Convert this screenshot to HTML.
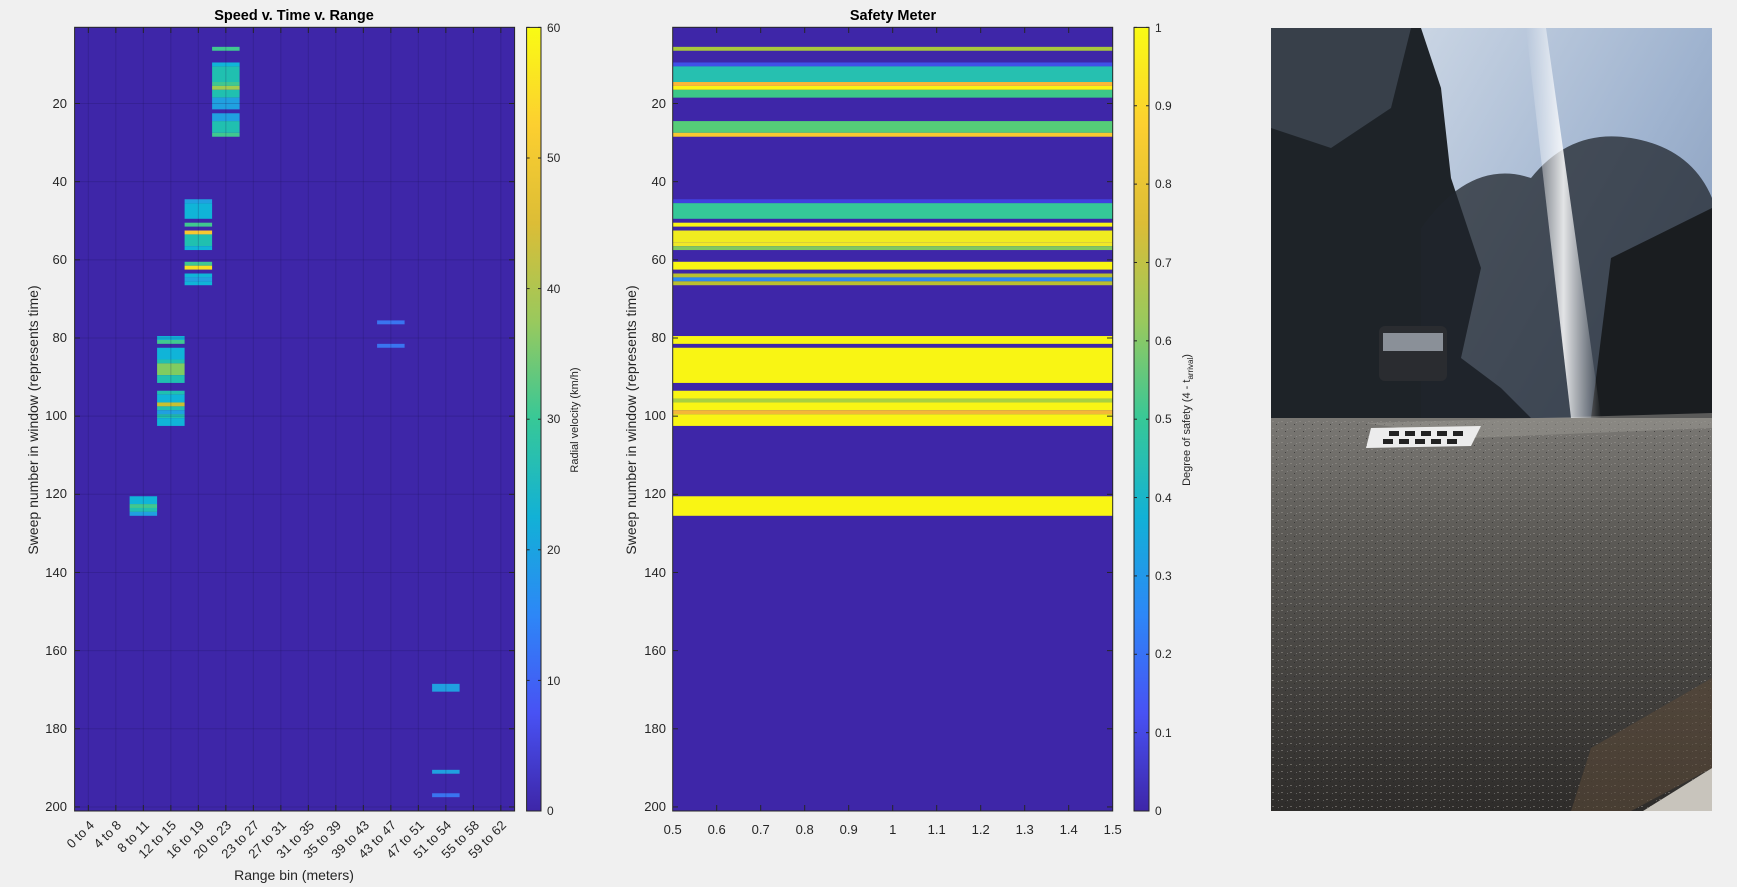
<!DOCTYPE html>
<html><head><meta charset="utf-8"><style>
html,body{margin:0;padding:0;background:#f0f0f0;}
svg{display:block;font-family:"Liberation Sans",Arial,sans-serif;}
.t{font-size:13px;fill:#262626;}
.tb{font-size:14.5px;font-weight:bold;fill:#000;}
</style></head><body>
<svg width="1737" height="887" viewBox="0 0 1737 887" xmlns="http://www.w3.org/2000/svg">
<defs>
<linearGradient id="par" x1="0" y1="1" x2="0" y2="0">
<stop offset="0" stop-color="#3e26a8"/><stop offset="0.125" stop-color="#4852f4"/>
<stop offset="0.25" stop-color="#2d87f7"/><stop offset="0.375" stop-color="#12b1d6"/>
<stop offset="0.5" stop-color="#37c897"/><stop offset="0.625" stop-color="#99c95d"/>
<stop offset="0.75" stop-color="#dcbd36"/><stop offset="0.875" stop-color="#fccf30"/>
<stop offset="1" stop-color="#f9fb14"/></linearGradient>
<linearGradient id="sky" x1="0" y1="0" x2="1" y2="1">
<stop offset="0" stop-color="#dfe6ee"/><stop offset="0.5" stop-color="#9fb3cf"/><stop offset="1" stop-color="#6a7fa0"/></linearGradient>
<linearGradient id="road" x1="0" y1="0" x2="0" y2="1">
<stop offset="0" stop-color="#7a7874"/><stop offset="0.3" stop-color="#5c5a56"/><stop offset="1" stop-color="#2e2c2a"/></linearGradient>
<linearGradient id="ray" x1="0" y1="0" x2="1" y2="0">
<stop offset="0" stop-color="#fff" stop-opacity="0"/><stop offset="0.5" stop-color="#fff" stop-opacity="0.85"/><stop offset="1" stop-color="#fff" stop-opacity="0"/></linearGradient>
<pattern id="grain" width="9" height="7" patternUnits="userSpaceOnUse">
<rect x="1" y="1" width="2" height="1" fill="#9a9690" opacity="0.5"/><rect x="5" y="4" width="1" height="1" fill="#222" opacity="0.6"/><rect x="7" y="2" width="1" height="1" fill="#aaa" opacity="0.4"/></pattern>
</defs>

<!-- LEFT PLOT -->
<rect x="74.6" y="27.3" width="440" height="783.7" fill="#3e26a8"/>
<g id="L"></g>
<g id="Lgrid" stroke="#1a1050" stroke-opacity="0.22" stroke-width="1"></g>
<rect x="74.6" y="27.3" width="440" height="783.7" fill="none" stroke="#262626" stroke-width="1"/>
<text class="tb" x="294" y="20" text-anchor="middle">Speed v. Time v. Range</text>
<g class="t" text-anchor="end">
<text x="67" y="108">20</text><text x="67" y="186">40</text><text x="67" y="264">60</text><text x="67" y="342">80</text><text x="67" y="420">100</text><text x="67" y="498">120</text><text x="67" y="577">140</text><text x="67" y="655">160</text><text x="67" y="733">180</text><text x="67" y="811">200</text>
</g>
<text class="t" style="font-size:14px" transform="translate(38,420) rotate(-90)" text-anchor="middle">Sweep number in window (represents time)</text>
<g class="t" text-anchor="end">
<text transform="translate(95,826) rotate(-45)">0 to 4</text>
<text transform="translate(122,826) rotate(-45)">4 to 8</text>
<text transform="translate(150,826) rotate(-45)">8 to 11</text>
<text transform="translate(177,826) rotate(-45)">12 to 15</text>
<text transform="translate(205,826) rotate(-45)">16 to 19</text>
<text transform="translate(232,826) rotate(-45)">20 to 23</text>
<text transform="translate(260,826) rotate(-45)">23 to 27</text>
<text transform="translate(287,826) rotate(-45)">27 to 31</text>
<text transform="translate(315,826) rotate(-45)">31 to 35</text>
<text transform="translate(342,826) rotate(-45)">35 to 39</text>
<text transform="translate(370,826) rotate(-45)">39 to 43</text>
<text transform="translate(397,826) rotate(-45)">43 to 47</text>
<text transform="translate(425,826) rotate(-45)">47 to 51</text>
<text transform="translate(452,826) rotate(-45)">51 to 54</text>
<text transform="translate(480,826) rotate(-45)">55 to 58</text>
<text transform="translate(507,826) rotate(-45)">59 to 62</text>
</g>
<text class="t" style="font-size:14px" x="294" y="880" text-anchor="middle">Range bin (meters)</text>

<!-- colorbar 1 -->
<rect x="526.6" y="27.4" width="14.4" height="783.6" fill="url(#par)" stroke="#262626" stroke-width="1"/>
<g id="cb1t" stroke="#262626"></g>
<g class="t" style="font-size:12px">
<text x="547" y="815">0</text><text x="547" y="685">10</text><text x="547" y="554">20</text><text x="547" y="423">30</text><text x="547" y="293">40</text><text x="547" y="162">50</text><text x="547" y="32">60</text>
</g>
<text class="t" style="font-size:11px" transform="translate(578,420) rotate(-90)" text-anchor="middle">Radial velocity (km/h)</text>

<!-- MIDDLE PLOT -->
<rect x="672.7" y="27.3" width="440" height="783.7" fill="#3e26a8"/>
<g id="M"></g>
<g id="Mt" stroke="#262626"></g>
<rect x="672.7" y="27.3" width="440" height="783.7" fill="none" stroke="#262626" stroke-width="1"/>
<text class="tb" x="893" y="20" text-anchor="middle">Safety Meter</text>
<g class="t" text-anchor="end">
<text x="666" y="108">20</text><text x="666" y="186">40</text><text x="666" y="264">60</text><text x="666" y="342">80</text><text x="666" y="420">100</text><text x="666" y="498">120</text><text x="666" y="577">140</text><text x="666" y="655">160</text><text x="666" y="733">180</text><text x="666" y="811">200</text>
</g>
<text class="t" style="font-size:14px" transform="translate(636,420) rotate(-90)" text-anchor="middle">Sweep number in window  (represents time)</text>
<g class="t" text-anchor="middle">
<text x="672.7" y="834">0.5</text><text x="716.7" y="834">0.6</text><text x="760.7" y="834">0.7</text><text x="804.7" y="834">0.8</text><text x="848.7" y="834">0.9</text><text x="892.7" y="834">1</text><text x="936.7" y="834">1.1</text><text x="980.7" y="834">1.2</text><text x="1024.7" y="834">1.3</text><text x="1068.7" y="834">1.4</text><text x="1112.7" y="834">1.5</text>
</g>

<!-- colorbar 2 -->
<rect x="1134" y="27.4" width="15" height="783.6" fill="url(#par)" stroke="#262626" stroke-width="1"/>
<g id="cb2t" stroke="#262626"></g>
<g class="t" style="font-size:12px">
<text x="1155" y="815">0</text><text x="1155" y="737">0.1</text><text x="1155" y="658">0.2</text><text x="1155" y="580">0.3</text><text x="1155" y="502">0.4</text><text x="1155" y="423">0.5</text><text x="1155" y="345">0.6</text><text x="1155" y="267">0.7</text><text x="1155" y="188">0.8</text><text x="1155" y="110">0.9</text><text x="1155" y="32">1</text>
</g>
<text class="t" style="font-size:11px" transform="translate(1190,420) rotate(-90)" text-anchor="middle">Degree of safety (4 - t<tspan font-size="8" dy="3">arrival</tspan><tspan dy="-3">)</tspan></text>

<!-- PHOTO -->
<svg x="1271" y="28" width="441" height="783" viewBox="0 0 441 783">
<rect width="441" height="783" fill="url(#sky)"/>
<path d="M0 0 L150 0 L170 60 L180 150 L210 240 L190 330 L230 360 L260 390 L0 395 Z" fill="#1e2328"/>
<path d="M0 0 L140 0 L120 80 L60 120 L0 100 Z" fill="#4a5460" opacity="0.6"/>
<path d="M150 200 Q200 130 260 150 Q300 100 360 110 Q420 120 441 170 L441 390 L150 395 Z" fill="#20252c" opacity="0.75"/>
<path d="M340 230 L441 180 L441 390 L320 390 Z" fill="#1a1d20"/>
<rect x="108" y="298" width="68" height="55" rx="6" fill="#2a2c30"/>
<rect x="112" y="305" width="60" height="18" fill="#8a9098"/>
<polygon points="0,390 441,390 441,783 0,783" fill="url(#road)"/>
<polygon points="0,390 441,390 441,783 0,783" fill="url(#grain)"/>
<polygon points="95,395 441,385 441,400 200,410" fill="#9a9892" opacity="0.5"/>
<polygon points="100,400 210,398 200,418 95,420" fill="#ececec"/>
<g fill="#222"><rect x="118" y="403" width="10" height="5"/><rect x="134" y="403" width="10" height="5"/><rect x="150" y="403" width="10" height="5"/><rect x="166" y="403" width="10" height="5"/><rect x="182" y="403" width="10" height="5"/><rect x="112" y="411" width="10" height="5"/><rect x="128" y="411" width="10" height="5"/><rect x="144" y="411" width="10" height="5"/><rect x="160" y="411" width="10" height="5"/><rect x="176" y="411" width="10" height="5"/></g>
<polygon points="372,783 441,740 441,783" fill="#c8c4bc"/>
<polygon points="320,720 441,650 441,740 360,783 300,783" fill="#5a4a38" opacity="0.6"/>
<polygon points="255,0 275,0 330,390 300,390" fill="url(#ray)"/>
</svg>

<script>
(function(){
var NS="http://www.w3.org/2000/svg";
function R(g,x,y,w,h,c){var r=document.createElementNS(NS,"rect");r.setAttribute("x",x);r.setAttribute("y",y);r.setAttribute("width",w);r.setAttribute("height",h);r.setAttribute("fill",c);g.appendChild(r);}
function Ln(g,x1,y1,x2,y2){var l=document.createElementNS(NS,"line");l.setAttribute("x1",x1);l.setAttribute("y1",y1);l.setAttribute("x2",x2);l.setAttribute("y2",y2);g.appendChild(l);}
function ry(r){return 27.3+(r-1)*3.908;}
var L=document.getElementById("L");
var bx=function(i){return 74.6+27.5*i;};
var C={cy:"#10b4d8",te:"#20c0b0",gr:"#40c890",ye:"#f8e020",or:"#f8c830",bl:"#20a0e0",b2:"#3a74f0",lg:"#80cc60",ol:"#c8c030",yg:"#a0cc50"};
var cells=[
[5,6,6,"gr"],[5,10,10,"cy"],[5,11,14,"te"],[5,15,15,"gr"],[5,16,16,"yg"],[5,17,18,"te"],[5,19,21,"bl"],[5,23,24,"bl"],[5,25,27,"te"],[5,28,28,"gr"],
[4,45,45,"bl"],[4,46,49,"cy"],[4,51,51,"gr"],[4,53,53,"or"],[4,54,56,"te"],[4,57,57,"cy"],[4,61,61,"gr"],[4,62,62,"ye"],[4,64,64,"cy"],[4,65,65,"bl"],[4,66,66,"cy"],
[3,80,80,"cy"],[3,81,81,"gr"],[3,83,85,"cy"],[3,86,86,"te"],[3,87,89,"lg"],[3,90,91,"te"],[3,94,94,"te"],[3,95,96,"cy"],[3,97,97,"ol"],[3,98,98,"te"],[3,99,99,"bl"],[3,100,100,"te"],[3,101,102,"cy"],
[2,121,122,"cy"],[2,123,123,"gr"],[2,124,124,"te"],[2,125,125,"bl"],
[11,76,76,"b2"],[11,82,82,"b2"],
[13,169,170,"bl"],[13,191,191,"bl"],[13,197,197,"b2"]];
cells.forEach(function(c){R(L,bx(c[0]),ry(c[1]),27.5,(c[2]-c[1]+1)*3.908,C[c[3]]);});
var G=document.getElementById("Lgrid");
for(var i=0;i<16;i++){var x=bx(i)+13.75;Ln(G,x,27.3,x,811);}
for(var v=20;v<=200;v+=20){var y=ry(v)+1.954;Ln(G,74.6,y,514.6,y);}
var T=document.createElementNS(NS,"g");T.setAttribute("stroke","#262626");document.querySelector("svg").appendChild(T);
for(var i=0;i<16;i++){var x=bx(i)+13.75;Ln(T,x,811,x,805);Ln(T,x,27.3,x,33);}
for(var v=20;v<=200;v+=20){var y=ry(v)+1.954;Ln(T,74.6,y,80,y);Ln(T,514.6,y,509,y);}
var M=document.getElementById("M");
var bands=[[6,6,"#a8c83c"],[10,10,"#4050e8"],[11,14,"#26c0b0"],[15,15,"#fbb838"],[16,16,"#f9f514"],[17,18,"#3cc888"],
[25,27,"#55cc78"],[28,28,"#f8c830"],[45,45,"#4040e0"],[46,49,"#35c898"],[51,51,"#f9f514"],[53,55,"#f0ec20"],[56,56,"#f0e828"],[57,57,"#80c860"],
[61,62,"#f9f514"],[64,64,"#b8c030"],[65,65,"#2c88f0"],[66,66,"#b8c030"],[80,81,"#f9f514"],[83,91,"#f9f514"],[94,95,"#f9f514"],[96,96,"#a8d040"],[97,98,"#f9f514"],[99,99,"#f4b838"],[100,102,"#f9f514"],[121,125,"#f9f514"]];
bands.forEach(function(b){R(M,672.7,ry(b[0]),440,(b[1]-b[0]+1)*3.908,b[2]);});
var Mt=document.getElementById("Mt");
for(var k=1;k<10;k++){var x=672.7+44*k;Ln(Mt,x,811,x,805);Ln(Mt,x,27.3,x,33);}
for(var v=20;v<=200;v+=20){var y=ry(v)+1.954;Ln(Mt,672.7,y,678,y);Ln(Mt,1112.7,y,1107,y);}
var c1=document.getElementById("cb1t");
for(var v=0;v<=60;v+=10){var y=811-v*13.06;Ln(c1,526.6,y,529.6,y);Ln(c1,541,y,538,y);}
var c2=document.getElementById("cb2t");
for(var v=0;v<=10;v++){var y=811-v*78.36;Ln(c2,1134,y,1137,y);Ln(c2,1149,y,1146,y);}
})();
</script>
</svg>
</body></html>
